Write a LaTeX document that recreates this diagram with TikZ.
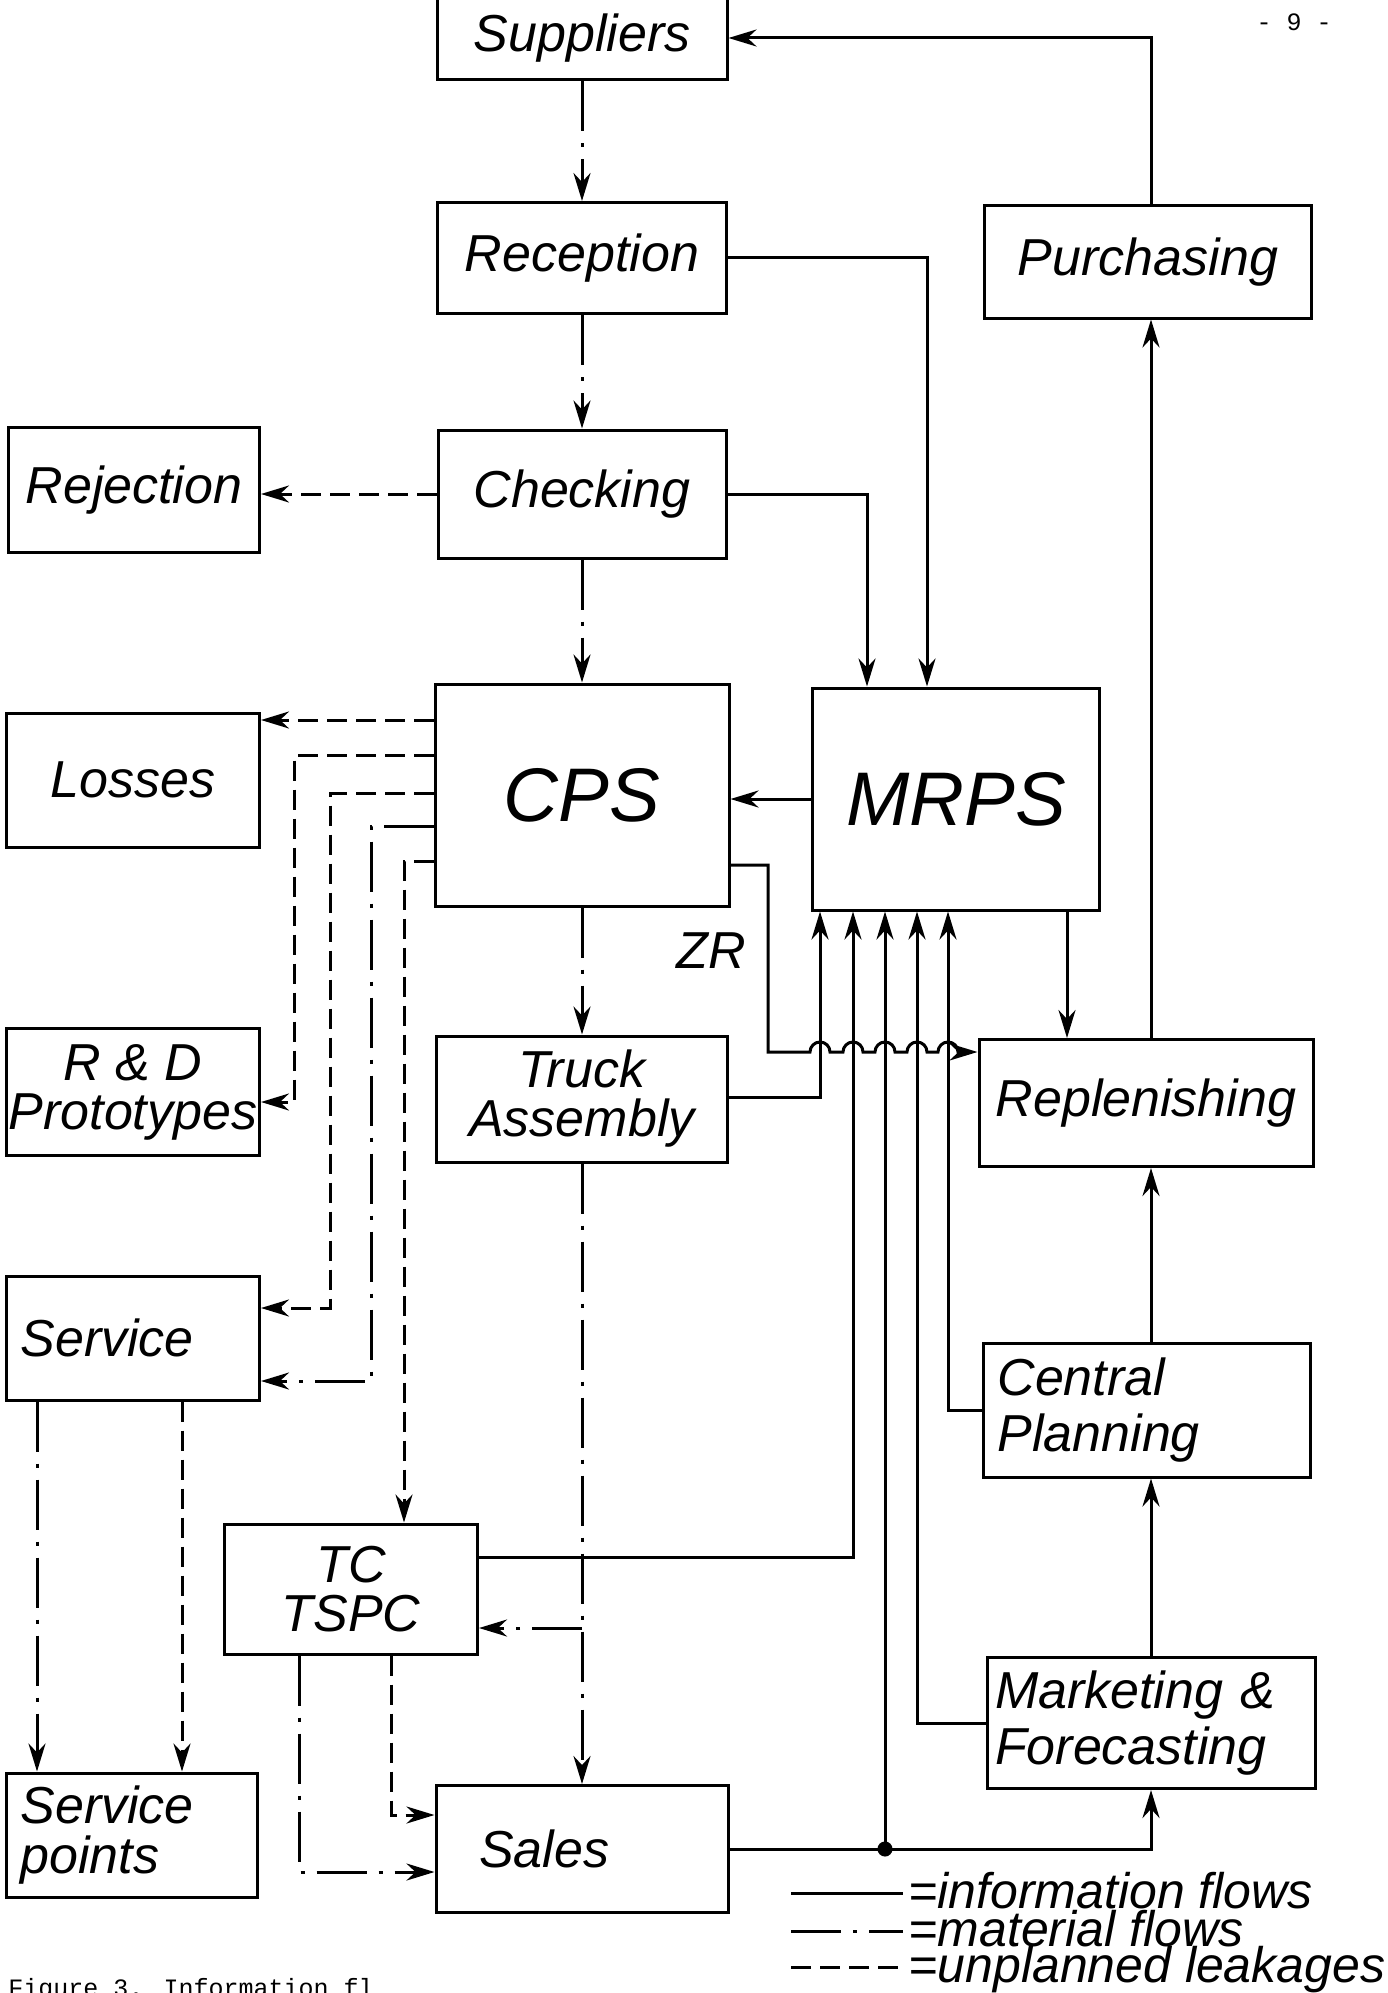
\documentclass[tikz,border=0pt]{standalone}
\usepackage{fontspec}
\setmainfont{Liberation Sans}
\newfontfamily\typewr{Liberation Mono}
\usetikzlibrary{arrows.meta}

\begin{document}
\begin{tikzpicture}[x=1pt, y=-1pt, line width=3pt,
    >={Stealth[length=28pt,width=17pt,inset=9pt]},
    box/.style={draw, inner sep=0pt, align=center, font=\itshape\fontsize{52}{49}\selectfont},
    lbox/.style={box, align=left, inner xsep=14pt, font=\itshape\fontsize{52}{56}\selectfont},
    info/.style={},
    matl/.style={dash pattern=on 50pt off 12pt on 4pt off 12pt},
    leak/.style={dash pattern=on 20pt off 9pt}]
      \useasboundingbox (0,0) rectangle (1387,1993);
      \coordinate (rx) at (1151,0);
      \node[box, minimum width=290pt, minimum height=84pt] (sup) at (582,38) {Suppliers};
      \node[box, minimum width=289pt, minimum height=111pt] (rec) at (582,258) {Reception};
      \node[box, minimum width=327pt, minimum height=112pt] (pur) at (1148,262) {Purchasing};
      \node[box, minimum width=288pt, minimum height=128pt] (chk) at (582,494) {Checking};
      \node[box, minimum width=251pt, minimum height=125pt] (rej) at (134,490) {Rejection};
      \node[box, minimum width=294pt, minimum height=222pt, font=\itshape\fontsize{76}{76}\selectfont] (cps) at (582,795) {CPS};
      \node[box, minimum width=287pt, minimum height=222pt, font=\itshape\fontsize{76}{76}\selectfont] (mrps) at (956,799) {MRPS};
      \node[box, minimum width=253pt, minimum height=134pt] (los) at (133,780) {Losses};
      \node[box, minimum width=253pt, minimum height=127pt] (rnd) at (133,1092) {R \& D\\Prototypes};
      \node[box, minimum width=291pt, minimum height=126pt] (trk) at (582,1099) {Truck\\Assembly};
      \node[box, minimum width=334pt, minimum height=127pt] (rep) at (1146,1103) {Replenishing};
      \node[lbox, text width=225pt, minimum height=124pt] (srv) at (133,1338) {Service};
      \node[lbox, text width=299pt, minimum height=134pt] (cp) at (1147,1410) {Central\\Planning};
      \node[box, minimum width=253pt, minimum height=130pt] (tc) at (351,1589) {TC\\TSPC};
      \node[lbox, text width=312pt, minimum height=131pt, inner xsep=8pt] (mkt) at (1151,1723) {Marketing \&\\Forecasting};
      \node[lbox, text width=223pt, minimum height=124pt, font=\itshape\fontsize{52}{50}\selectfont] (svp) at (132,1835) {Service\\points};
      \node[lbox, text width=206pt, minimum height=127pt, inner xsep=43pt] (sal) at (582,1849) {Sales};
      \node[font=\itshape\fontsize{52}{52}\selectfont] (zr) at (711,951) {ZR};
      \draw[matl,->] (sup) -- (rec);
      \draw[matl,->] (rec) -- (chk);
      \draw[matl,->] (chk) -- (cps);
      \draw[matl,->] (cps) -- (trk);
      \draw[matl,->] (trk) -- (sal);
      \draw[matl,->] (trk.south |- 0,1628) -- (tc.east |- 0,1628);
      \draw[leak,->] (chk.west) -- (rej.east |- chk.west);
      \draw[info,->] (pur.north -| rx) |- (sup.east);
      \draw[info,->] (rec.east) -| ([xshift=-29pt]mrps.north);
      \draw[info,->] (chk.east) -| ([xshift=-89pt]mrps.north);
      \draw[info,->] (mrps.west) -- (mrps.west -| cps.east);
      \draw[leak,->] (cps.west |- 0,720) -- (los.east |- 0,720);
      \draw[leak,->] (cps.west |- 0,755) -| (294,1102) -- (rnd.east |- 0,1102);
      \draw[leak,->] (cps.west |- 0,793) -| (330,1308) -- (srv.east |- 0,1308);
      \draw[matl,->] (cps.west |- 0,826) -| (371,1381) -- (srv.east |- 0,1381);
      \draw[leak,->] (cps.west |- 0,861) -| (tc.north -| 404,0);
      \draw[info,->] (cps.east |- 0,865) -| (768,1052)
        \foreach \x in {820,853,885,917,948} { -- (\x-10,1052) arc[start angle=180, end angle=360, radius=10] }
        -- (rep.west |- 0,1052);
      \draw[info,->] (trk.east |- 0,1097) -| (mrps.south -| 820,0);
      \draw[info,->] (tc.east |- 0,1557) -| (mrps.south -| 853,0);
      \coordinate (jn) at (885,1849);
      \filldraw (jn) circle (6pt);
      \draw[info,->] (sal.east) -| (mkt.south -| rx);
      \draw[info,->] (jn) -- (mrps.south -| jn);
      \draw[info,->] (mkt.west) -| (mrps.south -| 917,0);
      \draw[info,->] (cp.west) -| (mrps.south -| 948,0);
      \draw[info,->] ([xshift=111pt]mrps.south) -- ([xshift=111pt]mrps.south |- rep.north);
      \draw[info,->] (mkt.north -| rx) -- (cp.south -| rx);
      \draw[info,->] (cp.north -| rx) -- (rep.south -| rx);
      \draw[info,->] (rep.north -| rx) -- (pur.south -| rx);
      \draw[matl,->] (srv.south -| 37,0) -- (svp.north -| 37,0);
      \draw[leak,->] (srv.south -| 182,0) -- (svp.north -| 182,0);
      \draw[matl,->] (tc.south -| 299,0) |- (sal.west |- 0,1872);
      \draw[leak,->] (tc.south -| 391,0) |- (sal.west |- 0,1815);
      \node[anchor=base west, inner sep=0pt, font=\itshape\fontsize{50}{50}\selectfont] (lg1) at (907,1908) {=information flows};
      \node[anchor=base west, inner sep=0pt, font=\itshape\fontsize{50}{50}\selectfont] (lg2) at (907,1946) {=material flows};
      \node[anchor=base west, inner sep=0pt, font=\itshape\fontsize{50}{50}\selectfont] (lg3) at (907,1982) {=unplanned leakages};
      \draw[info] ([shift={(-116,-15)}]lg1.base west) -- ([shift={(-4,-15)}]lg1.base west);
      \draw[matl] ([shift={(-116,-15)}]lg2.base west) -- ([shift={(-4,-15)}]lg2.base west);
      \draw[leak] ([shift={(-116,-15)}]lg3.base west) -- ([shift={(-4,-15)}]lg3.base west);
      \node[anchor=base, font=\typewr\fontsize{25}{25}\selectfont] (pg) at (1294,31) {- 9 -};
      \node[anchor=base west, inner sep=0pt, font=\typewr\fontsize{25}{25}\selectfont] (fig) at (7,1996) {Figure 3. Information fl};
    \end{tikzpicture}
\end{document}
